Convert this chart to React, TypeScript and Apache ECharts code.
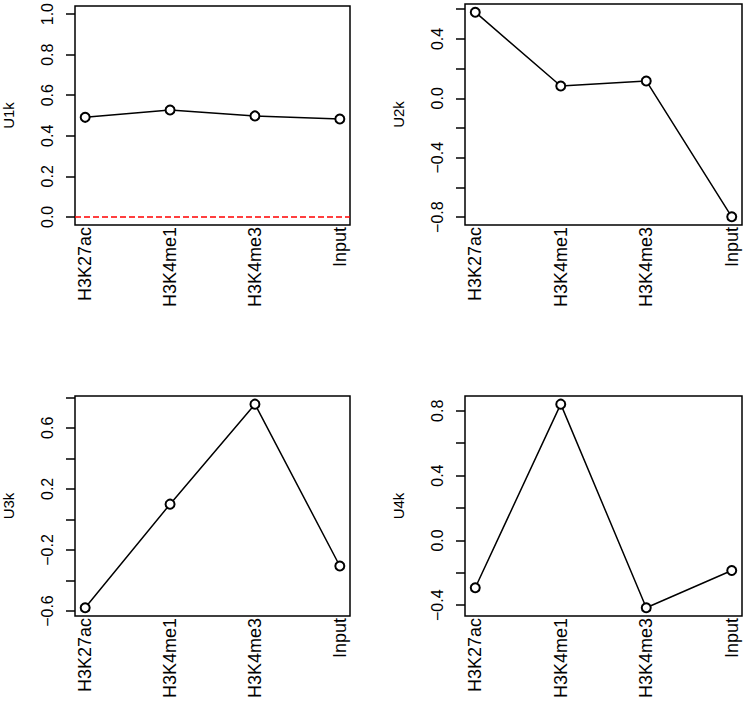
import React, { useEffect, useRef } from "react";
import * as echarts from "echarts";

const categories = ["H3K27ac", "H3K4me1", "H3K4me3", "Input"];
const u1k = [0.491, 0.527, 0.498, 0.483];
const u2k = [0.58, 0.083, 0.117, -0.798];
const u3k = [-0.579, 0.1, 0.755, -0.305];
const u4k = [-0.292, 0.841, -0.416, -0.186];

const u1Ticks = [0, 0.2, 0.4, 0.6, 0.8, 1.0];
const u1Labels = [0, 0.2, 0.4, 0.6, 0.8, 1.0];
const u2Ticks = [-0.8, -0.6, -0.4, -0.2, 0, 0.2, 0.4, 0.6];
const u2Labels = [-0.8, -0.4, 0, 0.4];
const u3Ticks = [-0.6, -0.4, -0.2, 0, 0.2, 0.4, 0.6, 0.8];
const u3Labels = [-0.6, -0.2, 0.2, 0.6];
const u4Ticks = [-0.4, -0.2, 0, 0.2, 0.4, 0.6, 0.8];
const u4Labels = [-0.4, 0, 0.4, 0.8];

const FONT = "Liberation Sans, Arial, Helvetica, sans-serif";

export default function App() {
  const ref = useRef<HTMLDivElement>(null);

  useEffect(() => {
    if (!ref.current) return;
    const chart = echarts.init(ref.current, null, { renderer: "svg" });

    const panels = [
      { name: "U1k", data: u1k, ticks: u1Ticks, labels: u1Labels, left: 73, top: 4, ylim: [0, 1], abline: true },
      { name: "U2k", data: u2k, ticks: u2Ticks, labels: u2Labels, left: 465, top: 4, ylim: null, abline: false },
      { name: "U3k", data: u3k, ticks: u3Ticks, labels: u3Labels, left: 73, top: 396, ylim: null, abline: false },
      { name: "U4k", data: u4k, ticks: u4Ticks, labels: u4Labels, left: 465, top: 396, ylim: null, abline: false },
    ];

    const n = categories.length;
    const xPad = 0.04 * (n - 1);

    const grid: any[] = [];
    const xAxis: any[] = [];
    const yAxis: any[] = [];
    const series: any[] = [];

    panels.forEach((p, i) => {
      const lo = p.ylim ? p.ylim[0] : Math.min(...p.data);
      const hi = p.ylim ? p.ylim[1] : Math.max(...p.data);
      const r = hi - lo;
      grid.push({
        left: p.left,
        top: p.top,
        width: 277,
        height: 221,
        show: true,
        borderColor: "#000",
        borderWidth: 1.5,
        backgroundColor: "transparent",
        containLabel: false,
      });
      xAxis.push({
        type: "value",
        gridIndex: i,
        min: 1 - xPad,
        max: n + xPad,
        axisLine: { show: false },
        axisTick: { show: false },
        splitLine: { show: false },
        axisLabel: {
          customValues: categories.map((_, k) => k + 1),
          formatter: (v: number) => categories[Math.round(v) - 1] ?? "",
          rotate: 90,
          margin: 2,
          color: "#000",
          fontSize: 18,
          fontFamily: FONT,
        },
      });
      yAxis.push({
        type: "value",
        gridIndex: i,
        min: lo - 0.04 * r,
        max: hi + 0.04 * r,
        name: p.name,
        nameLocation: "middle",
        nameRotate: 90,
        nameGap: 59,
        nameTextStyle: { color: "#000", fontSize: 15, fontFamily: FONT },
        axisLine: { show: false },
        splitLine: { show: false },
        axisTick: {
          show: true,
          customValues: p.ticks,
          length: 9,
          lineStyle: { color: "#000", width: 1.5 },
        },
        axisLabel: {
          customValues: p.labels,
          formatter: (v: number) => v.toFixed(1).replace("-", "\u2212"),
          rotate: 90,
          margin: 20,
          color: "#000",
          fontSize: 16,
          fontFamily: FONT,
        },
      });
      const s: any = {
        type: "line",
        xAxisIndex: i,
        yAxisIndex: i,
        data: p.data.map((v, k) => [k + 1, v]),
        symbol: "emptyCircle",
        symbolSize: 9,
        showSymbol: true,
        lineStyle: { color: "#000", width: 1.5 },
        itemStyle: { color: "#000", borderColor: "#000", borderWidth: 1.5 },
        emphasis: { disabled: true },
        silent: true,
      };
      if (p.abline) {
        s.markLine = {
          silent: true,
          symbol: "none",
          label: { show: false },
          lineStyle: { color: "#ff0000", type: [6, 3], width: 1.5 },
          data: [{ yAxis: 0 }],
        };
      }
      series.push(s);
    });

    chart.setOption({
      animation: false,
      backgroundColor: "#fff",
      grid,
      xAxis,
      yAxis,
      series,
    });

    return () => chart.dispose();
  }, []);

  return (
    <div
      ref={ref}
      style={{ position: "absolute", left: 0, top: 0, width: 745, height: 701 }}
    />
  );
}
